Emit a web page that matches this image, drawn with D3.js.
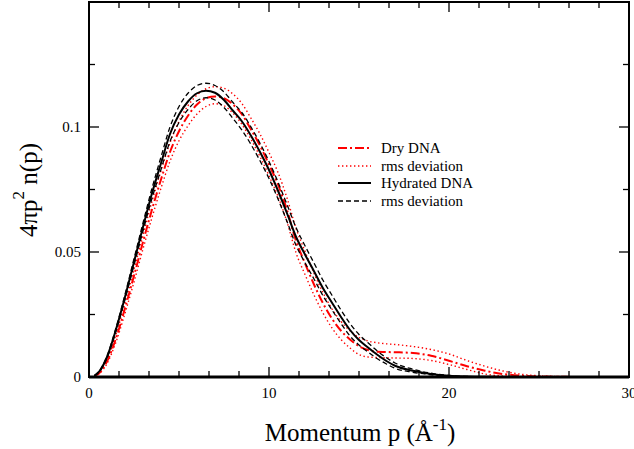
<!DOCTYPE html>
<html>
<head>
<meta charset="utf-8">
<script src="https://cdn.jsdelivr.net/npm/d3@7"></script>
<style>
  body { margin: 0; background: #fff; }
  svg text { font-family: "Liberation Serif", "Tinos", "Times New Roman", "Times", "Nimbus Roman", "Nimbus Roman No9 L", "FreeSerif", "Noto Serif", "DejaVu Serif", "Georgia", serif; }
</style>
</head>
<body>
<svg id="chart" width="634" height="449"></svg>
<script>
// momentum grid (1/Angstrom)
const momentum = [0.3, 0.6, 1, 1.5, 2, 2.5, 3, 3.5, 4, 4.5, 5, 5.5, 6, 6.5, 7, 7.5, 8, 8.5, 9, 9.5,
  10, 10.5, 11, 11.5, 12, 12.5, 13, 13.5, 14, 14.5, 15, 15.5, 16, 16.5, 17, 18, 19, 20, 21, 22, 23, 24, 25, 26, 28, 30];

// Hydrated DNA mean and rms band
const hydrated = [0.0005, 0.0025, 0.0080, 0.0190, 0.0320, 0.0460, 0.0600, 0.0735, 0.0855, 0.0972, 0.1050, 0.1102, 0.1135, 0.1145, 0.1137, 0.1108, 0.1065, 0.1022, 0.0965, 0.0900,
  0.0828, 0.0745, 0.0655, 0.0561, 0.0490, 0.0423, 0.0355, 0.0297, 0.0240, 0.0188, 0.0148, 0.0118, 0.0090, 0.0065, 0.0045, 0.0025, 0.0012, 0.0005, 0.0002, 0.0001, 0, 0, 0, 0, 0, 0];
const hydratedUp = [0.0006, 0.0027, 0.0084, 0.0197, 0.0330, 0.0473, 0.0616, 0.0755, 0.0880, 0.1000, 0.1082, 0.1135, 0.1166, 0.1175, 0.1166, 0.1140, 0.1098, 0.1057, 0.1000, 0.0935,
  0.0862, 0.0780, 0.0690, 0.0598, 0.0525, 0.0456, 0.0387, 0.0327, 0.0268, 0.0214, 0.0170, 0.0137, 0.0105, 0.0078, 0.0056, 0.0031, 0.0015, 0.0006, 0.0002, 0.0001, 0, 0, 0, 0, 0, 0];
const hydratedLo = [0.0004, 0.0023, 0.0076, 0.0183, 0.0310, 0.0447, 0.0584, 0.0715, 0.0830, 0.0942, 0.1018, 0.1070, 0.1105, 0.1117, 0.1108, 0.1078, 0.1034, 0.0987, 0.0930, 0.0865,
  0.0794, 0.0712, 0.0622, 0.0527, 0.0457, 0.0392, 0.0325, 0.0268, 0.0214, 0.0164, 0.0128, 0.0100, 0.0074, 0.0053, 0.0035, 0.0019, 0.0009, 0.0004, 0.0001, 0, 0, 0, 0, 0, 0, 0];

// Dry DNA mean and rms band
const dry = [0.0003, 0.0018, 0.0062, 0.0155, 0.0275, 0.0405, 0.0540, 0.0670, 0.0790, 0.0900, 0.0983, 0.1045, 0.1090, 0.1115, 0.1122, 0.1115, 0.1090, 0.1050, 0.0990, 0.0925,
  0.0850, 0.0770, 0.0668, 0.0545, 0.0455, 0.0370, 0.0295, 0.0233, 0.0185, 0.0150, 0.0123, 0.0108, 0.0101, 0.0100, 0.0099, 0.0096, 0.0085, 0.0065, 0.0043, 0.0025, 0.0012, 0.0005, 0.0002, 0.0001, 0, 0];
const dryUp = [0.0004, 0.0021, 0.0070, 0.0170, 0.0295, 0.0430, 0.0568, 0.0702, 0.0825, 0.0937, 0.1022, 0.1085, 0.1128, 0.1153, 0.1161, 0.1155, 0.1132, 0.1093, 0.1035, 0.0972,
  0.0898, 0.0818, 0.0716, 0.0595, 0.0503, 0.0415, 0.0337, 0.0272, 0.0222, 0.0185, 0.0158, 0.0144, 0.0137, 0.0133, 0.0130, 0.0122, 0.0110, 0.0092, 0.0066, 0.0043, 0.0024, 0.0011, 0.0005, 0.0002, 0, 0];
const dryLo = [0.0002, 0.0015, 0.0054, 0.0140, 0.0255, 0.0380, 0.0512, 0.0638, 0.0755, 0.0863, 0.0945, 0.1005, 0.1052, 0.1082, 0.1093, 0.1085, 0.1055, 0.1010, 0.0950, 0.0882,
  0.0805, 0.0722, 0.0620, 0.0497, 0.0410, 0.0328, 0.0256, 0.0196, 0.0150, 0.0116, 0.0090, 0.0080, 0.0078, 0.0077, 0.0076, 0.0074, 0.0066, 0.0050, 0.0030, 0.0012, 0.0004, 0.0001, 0, 0, 0, 0];

const xTicks = [0, 10, 20, 30];
const yTicks = [0, 0.05, 0.1];
const yTickLabels = ["0", "0.05", "0.1"];

// series look + legend text
const series = [
  { name: "Dry DNA", values: dry, color: "#ff0000", width: 2, dash: "9,3,2,3" },
  { name: "rms deviation", values: dryUp, color: "#ff0000", width: 1.4, dash: "1.4,2.6" },
  { name: null, values: dryLo, color: "#ff0000", width: 1.4, dash: "1.4,2.6" },
  { name: "Hydrated DNA", values: hydrated, color: "#000", width: 2, dash: null },
  { name: "rms deviation", values: hydratedUp, color: "#000", width: 1.3, dash: "5,3" },
  { name: null, values: hydratedLo, color: "#000", width: 1.3, dash: "5,3" }
];

const svg = d3.select("#chart");
const plotL = 89, plotR = 629, plotT = 2, plotB = 377;

const x = d3.scaleLinear().domain([0, 30]).range([plotL, plotR]);
const y = d3.scaleLinear().domain([0, 0.15]).range([plotB, plotT]);

// curves
const line = d3.line()
  .x((d, i) => x(momentum[i]))
  .y(d => y(d))
  .curve(d3.curveMonotoneX);

svg.append("g").selectAll("path")
  .data(series)
  .join("path")
  .attr("d", d => line(d.values))
  .attr("fill", "none")
  .attr("stroke", d => d.color)
  .attr("stroke-width", d => d.width)
  .attr("stroke-dasharray", d => d.dash);

// ticks (inward, on all four sides)
const xMinor = d3.range(0, 30.001, 10 / 6);
const yMinor = d3.range(0, 0.1501, 0.025);
const tickG = svg.append("g").attr("stroke", "#000").attr("stroke-width", 1.3);

xMinor.forEach(v => {
  const major = xTicks.some(t => Math.abs(t - v) < 1e-6);
  const len = major ? 10 : 6;
  tickG.append("line").attr("x1", x(v)).attr("x2", x(v)).attr("y1", plotB).attr("y2", plotB - len);
  tickG.append("line").attr("x1", x(v)).attr("x2", x(v)).attr("y1", plotT).attr("y2", plotT + len);
});
yMinor.forEach(v => {
  const major = Math.abs(v / 0.05 - Math.round(v / 0.05)) < 1e-6;
  const len = major ? 10 : 6;
  tickG.append("line").attr("x1", plotL).attr("x2", plotL + len).attr("y1", y(v)).attr("y2", y(v));
  tickG.append("line").attr("x1", plotR).attr("x2", plotR - len).attr("y1", y(v)).attr("y2", y(v));
});

// frame
svg.append("rect")
  .attr("x", plotL).attr("y", plotT)
  .attr("width", plotR - plotL).attr("height", plotB - plotT)
  .attr("fill", "none").attr("stroke", "#000").attr("stroke-width", 2);
svg.append("line")
  .attr("x1", plotL).attr("x2", plotR).attr("y1", plotB).attr("y2", plotB)
  .attr("stroke", "#000").attr("stroke-width", 3);

// tick labels
svg.append("g").selectAll("text")
  .data(xTicks)
  .join("text")
  .attr("x", d => x(d))
  .attr("y", 398)
  .attr("text-anchor", "middle")
  .attr("font-size", 15)
  .text(d => d);

svg.append("g").selectAll("text")
  .data(yTicks)
  .join("text")
  .attr("x", 81)
  .attr("y", d => y(d) + 5)
  .attr("text-anchor", "end")
  .attr("font-size", 15)
  .text((d, i) => yTickLabels[i]);

// axis titles
const xt = svg.append("text")
  .attr("x", 360).attr("y", 441)
  .attr("text-anchor", "middle")
  .attr("font-size", 25);
xt.append("tspan").text("Momentum p (Å");
xt.append("tspan").attr("font-size", 17).attr("dy", -11).text("-1");
xt.append("tspan").attr("dy", 11).text(")");

const yt = svg.append("text")
  .attr("transform", "translate(37,190) rotate(-90)")
  .attr("text-anchor", "middle")
  .attr("font-size", 25);
yt.append("tspan").text("4πp");
yt.append("tspan").attr("font-size", 17).attr("dy", -13).text("2");
yt.append("tspan").attr("dy", 13).text(" n(p)");

// legend
const legendRows = series.filter(s => s.name);
const legendY = [148, 166, 183, 201];
const lg = svg.append("g");
legendRows.forEach((s, i) => {
  lg.append("line")
    .attr("x1", 338).attr("x2", 371)
    .attr("y1", legendY[i]).attr("y2", legendY[i])
    .attr("stroke", s.color)
    .attr("stroke-width", s.width)
    .attr("stroke-dasharray", s.dash);
  lg.append("text")
    .attr("x", 381).attr("y", legendY[i] + 5)
    .attr("font-size", 15)
    .text(s.name);
});
</script>
</body>
</html>
